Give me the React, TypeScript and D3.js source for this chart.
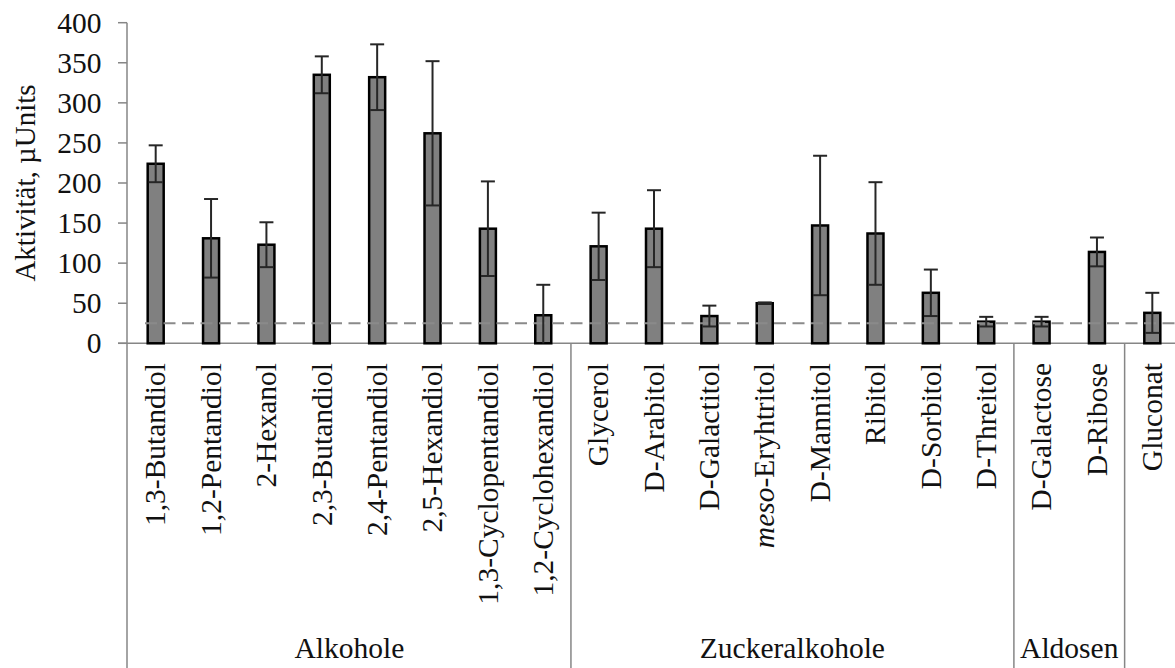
import * as d3 from 'd3';

const W = 1175, H = 668;

const categories = [
  '1,3-Butandiol', '1,2-Pentandiol', '2-Hexanol', '2,3-Butandiol', '2,4-Pentandiol',
  '2,5-Hexandiol', '1,3-Cyclopentandiol', '1,2-Cyclohexandiol',
  'Glycerol', 'D-Arabitol', 'D-Galactitol', 'meso-Eryhtritol', 'D-Mannitol',
  'Ribitol', 'D-Sorbitol', 'D-Threitol',
  'D-Galactose', 'D-Ribose',
  'Gluconat',
];
const values = [224, 131, 123, 335, 332, 262, 143, 35, 121, 143, 34, 50, 147, 137, 63, 27, 27, 114, 38];
const errors = [23, 49, 28, 23, 41, 90, 59, 38, 42, 48, 13, 1, 87, 64, 29, 6, 6, 18, 25];
const groupNames = ['Alkohole', 'Zuckeralkohole', 'Aldosen', ''];
const groupSizes = [8, 8, 2, 1];
const yTicks = [0, 50, 100, 150, 200, 250, 300, 350, 400];
const threshold = 25;

const FONT = '"Liberation Serif", "Times New Roman", serif';
const AXIS = '#868686';
const FS = 29.5;

export default function App() {
  const x = d3.scaleBand<string>().domain(categories).range([128, 1180]);
  const y = d3.scaleLinear().domain([0, 400]).range([343.3, 22.7]);
  const step = x.step();
  const barW = 16;
  const axisX = 127;
  const baseY = y(0);

  // group boundaries
  const bounds: number[] = [0];
  groupSizes.forEach((s, i) => bounds.push(bounds[i] + s));

  return (
    <div style={{ position: 'fixed', left: 0, top: 0 }}>
      <svg width={W} height={H} style={{ display: 'block', background: '#fff' }} fontFamily={FONT}>
        {/* y ticks + labels */}
        {yTicks.map((t) => (
          <g key={t}>
            <line x1={118} x2={axisX} y1={y(t)} y2={y(t)} stroke={AXIS} strokeWidth={1.5} />
            <text x={101.5} y={y(t)} textAnchor="end" dominantBaseline="central" fontSize={FS} fill="#111">
              {t}
            </text>
          </g>
        ))}
        <text
          transform={`translate(25,${(y(0) + y(400)) / 2}) rotate(-90)`}
          textAnchor="middle"
          dominantBaseline="central"
          fontSize={29}
          fill="#111"
        >
          Aktivität,  µUnits
        </text>

        {/* axes and group separators */}
        <line x1={axisX} x2={axisX} y1={y(400)} y2={H} stroke={AXIS} strokeWidth={1.5} />
        <line x1={118} x2={W} y1={baseY} y2={baseY} stroke={AXIS} strokeWidth={1.5} />
        {bounds.slice(1).map((b, i) => {
          const bx = x.range()[0] + b * step;
          return <line key={i} x1={bx} x2={bx} y1={baseY} y2={H} stroke={AXIS} strokeWidth={1.5} />;
        })}

        {/* bars */}
        {categories.map((c, i) => {
          const cx = (x(c) ?? 0) + step / 2;
          return (
            <rect
              key={c}
              x={cx - barW / 2}
              y={y(values[i])}
              width={barW}
              height={baseY - y(values[i])}
              fill="#808080"
              stroke="#000"
              strokeWidth={2.5}
            />
          );
        })}

        {/* dashed threshold line */}
        <line
          x1={145}
          x2={W}
          y1={y(threshold)}
          y2={y(threshold)}
          stroke="#8a8a8a"
          strokeWidth={2}
          strokeDasharray="12 6.5"
        />

        {/* error bars */}
        {categories.map((c, i) => {
          const cx = (x(c) ?? 0) + step / 2;
          const hi = values[i] + errors[i];
          const loRaw = values[i] - errors[i];
          const lo = Math.max(0, loRaw);
          return (
            <g key={c} stroke="#262626" strokeWidth={2}>
              <line x1={cx} x2={cx} y1={y(hi)} y2={y(lo)} />
              <line x1={cx - 7} x2={cx + 7} y1={y(hi)} y2={y(hi)} />
              {loRaw > 0 && <line x1={cx - 7} x2={cx + 7} y1={y(lo)} y2={y(lo)} />}
            </g>
          );
        })}

        {/* category labels */}
        {categories.map((c) => {
          const cx = (x(c) ?? 0) + step / 2;
          const isMeso = c.startsWith('meso-');
          return (
            <text
              key={c}
              transform={`translate(${cx},363) rotate(-90)`}
              textAnchor="end"
              dy="0.33em"
              fontSize={FS}
              fill="#111"
            >
              {isMeso ? (
                <>
                  <tspan fontStyle="italic">meso</tspan>
                  {c.slice(4)}
                </>
              ) : (
                c
              )}
            </text>
          );
        })}

        {/* group labels */}
        {groupNames.map((g, i) => {
          const gx = x.range()[0] + ((bounds[i] + bounds[i + 1]) / 2) * step;
          return g ? (
            <text key={g} x={gx} y={658} textAnchor="middle" fontSize={FS} fill="#111">
              {g}
            </text>
          ) : null;
        })}
      </svg>
    </div>
  );
}
